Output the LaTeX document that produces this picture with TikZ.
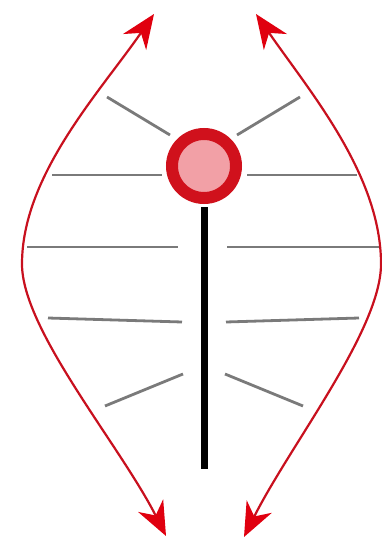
\documentclass[tikz,border=0pt]{standalone}
\usetikzlibrary{arrows.meta}
\definecolor{ringred}{HTML}{D0111C}
\definecolor{ballpink}{HTML}{F2A0A6}
\definecolor{curvered}{HTML}{C8101E}
\definecolor{tipred}{HTML}{E0000F}
\definecolor{ribgray}{HTML}{7A7A7A}
\tikzset{
  rib/.style={draw=ribgray, line width=2.8pt},
  flow/.style={draw=curvered, line width=2.2pt,
    {Stealth[length=34pt,width=28pt,inset=11pt,fill=tipred,color=tipred]}-{Stealth[length=34pt,width=28pt,inset=11pt,fill=tipred,color=tipred]}},
  ball/.style={circle, draw=ringred, line width=12pt, fill=ballpink, minimum size=64pt, inner sep=0pt}
}
\begin{document}
\begin{tikzpicture}[x=1pt,y=-1pt]
\useasboundingbox (0,0) rectangle (382,545);
% ribs
\draw[rib] (107,97) -- (170,135);
\draw[rib] (237,135) -- (300,97);
\draw[rib] (52,175) -- (162,175);
\draw[rib] (247,175) -- (357,175);
\draw[rib] (27,247) -- (178,247);
\draw[rib] (227,247) -- (380,247);
\draw[rib] (48,318) -- (182,322);
\draw[rib] (226,322) -- (359,318);
\draw[rib] (105,406) -- (183,374);
\draw[rib] (225,374) -- (303,406);
% ball and stem
\node[ball] (b) at (204,166) {};
\coordinate (s1) at (204,207);
\coordinate (s2) at (204,469);
\draw[line width=7pt] (s1) -- (s2);
% curves
\coordinate (lt) at (154,14);
\coordinate (lm) at (22,264);
\coordinate (lb) at (166,536);
\coordinate (rt) at (256,14);
\coordinate (rm) at (381,264);
\coordinate (rb) at (244,537);
\draw[flow] (lt) .. controls (100,92) and (22,175) .. (lm)
                .. controls (22,330) and (120,445) .. (lb);
\draw[flow] (rt) .. controls (310,92) and (381,175) .. (rm)
                .. controls (381,330) and (290,445) .. (rb);
\end{tikzpicture}
\end{document}
